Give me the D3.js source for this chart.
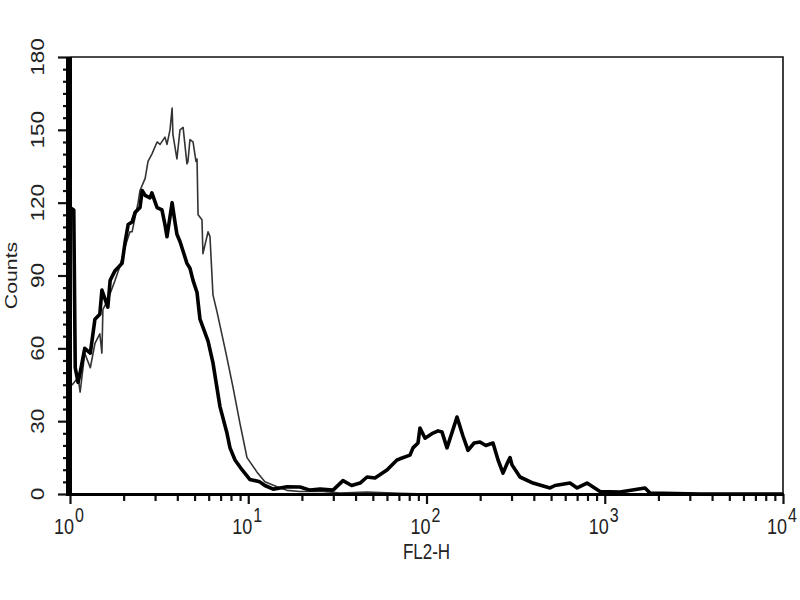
<!DOCTYPE html>
<html>
<head>
<meta charset="utf-8">
<script src="https://cdn.jsdelivr.net/npm/d3@7"></script>
<style>
  html, body { margin: 0; padding: 0; background: #fff; }
  text { font-family: "Liberation Sans", Arial, sans-serif; fill: #222; }
</style>
</head>
<body>
<div id="chart"></div>
<script>
// FL2-H histogram, counts per channel
const sampleSeries = [
  [1.0, 118], [1.05, 117], [1.07, 52], [1.11, 46], [1.14, 50], [1.21, 60], [1.30, 58],
  [1.38, 72], [1.47, 74], [1.51, 84], [1.63, 77], [1.68, 88], [1.79, 92], [1.96, 95],
  [2.04, 104], [2.12, 111], [2.23, 112], [2.32, 116], [2.47, 118], [2.54, 125], [2.64, 123],
  [2.81, 122], [2.88, 124], [3.08, 118], [3.28, 117], [3.41, 111], [3.50, 106], [3.74, 120],
  [3.88, 112], [3.98, 107], [4.14, 104], [4.31, 100], [4.53, 95], [4.71, 93], [4.90, 88],
  [5.16, 83], [5.36, 72], [5.95, 63], [6.34, 54], [6.94, 36], [7.60, 25], [7.90, 19],
  [8.43, 14], [9.22, 10], [10.2, 6], [11.6, 5], [12.4, 3.5], [13.8, 2], [15.1, 2.5],
  [16.5, 3], [19.5, 2.9], [22.2, 1.6], [25.3, 2], [29.9, 1.6], [34.0, 5.5], [38.0, 3.5],
  [42.4, 4.5], [46.4, 7], [51.4, 6.6], [60.0, 9.9], [68.3, 14], [71.0, 14.5], [80.8, 16],
  [84.0, 19], [89.6, 21], [91.9, 27.2], [98.1, 23], [108.8, 25.1], [116.0, 26], [122.2, 25.5],
  [130.3, 19], [140.0, 26], [148.3, 31.7], [160.0, 24], [171.0, 18], [185.0, 21], [199.6, 21.4],
  [215.0, 20], [236.1, 21], [252.0, 14], [268.7, 8.6], [285.0, 13], [294.1, 15], [301.8, 12],
  [334.6, 7], [395.8, 4.5], [493.1, 2.5], [526.0, 3.5], [638.3, 4.5], [700.0, 2.5], [795.1, 4.5],
  [940.5, 1], [1218, 0.8], [1682, 2.5], [1795, 0.4], [3422, 0], [10000, 0]
];

const controlSeries = [
  [1.0, 46], [1.03, 45], [1.11, 48], [1.14, 42], [1.21, 58], [1.30, 52], [1.38, 62],
  [1.47, 66], [1.51, 58], [1.53, 76], [1.63, 80], [1.79, 88], [1.91, 94], [2.04, 102],
  [2.17, 108], [2.23, 108], [2.41, 120], [2.47, 125], [2.64, 130], [2.74, 137], [2.88, 140],
  [3.08, 145], [3.20, 144], [3.41, 147], [3.50, 144], [3.64, 150], [3.74, 159], [3.78, 148],
  [3.98, 138], [4.14, 150], [4.31, 151], [4.53, 136], [4.59, 137], [4.71, 146], [4.90, 145],
  [5.09, 137], [5.16, 138], [5.23, 115], [5.50, 113], [5.57, 99], [5.95, 108], [6.10, 106],
  [6.34, 82], [6.68, 75], [7.40, 60], [7.60, 56], [8.21, 44], [8.99, 29], [9.84, 15],
  [11.2, 9], [12.4, 5], [14.5, 3], [16.5, 1.5], [19.5, 1], [25.3, 1.2], [32.7, 0.4],
  [46.4, 0.8], [71.0, 0.3], [100, 0], [10000, 0]
];

const yMajorTicks = [0, 30, 60, 90, 120, 150, 180];
const yMinorStep = 5;
const xDecades = [0, 1, 2, 3, 4];
const xLabel = 'FL2-H';
const yLabel = 'Counts';

const width = 800, height = 600;
const margin = { top: 57, right: 17, bottom: 106, left: 70 };
const textStretch = 'scale(1,1.25)';

const svg = d3.select('#chart')
  .append('svg')
  .attr('width', width)
  .attr('height', height);

const x = d3.scaleLog()
  .domain([1, 10000])
  .range([margin.left, width - margin.right]);

const y = d3.scaleLinear()
  .domain([0, 180])
  .range([height - margin.bottom, margin.top]);

svg.append('clipPath')
  .attr('id', 'plot-clip')
  .append('rect')
  .attr('x', margin.left)
  .attr('y', margin.top - 2)
  .attr('width', width - margin.left - margin.right)
  .attr('height', height - margin.top - margin.bottom + 2);

// frame (top + right are thin)
svg.append('path')
  .attr('d', `M${x(1)},${y(180)}H${x(10000)}V${y(0)}`)
  .attr('fill', 'none')
  .attr('stroke', '#111')
  .attr('stroke-width', 1.6);

const line = d3.line()
  .x(d => x(d[0]))
  .y(d => y(d[1]));

svg.append('path')
  .datum(controlSeries)
  .attr('clip-path', 'url(#plot-clip)')
  .attr('fill', 'none')
  .attr('stroke', '#333')
  .attr('stroke-width', 1.6)
  .attr('stroke-linejoin', 'round')
  .attr('d', line);

svg.append('path')
  .datum(sampleSeries)
  .attr('clip-path', 'url(#plot-clip)')
  .attr('fill', 'none')
  .attr('stroke', '#000')
  .attr('stroke-width', 3.6)
  .attr('stroke-linejoin', 'round')
  .attr('d', line);

// left axis
const yMinor = d3.range(0, 181, yMinorStep).filter(v => !yMajorTicks.includes(v));
const leftMinor = svg.append('g')
  .attr('transform', `translate(${margin.left},0)`)
  .call(d3.axisLeft(y).tickValues(yMinor).tickSize(7).tickFormat(''));
const leftMajor = svg.append('g')
  .attr('transform', `translate(${margin.left},0)`)
  .call(d3.axisLeft(y).tickValues(yMajorTicks).tickSize(12).tickFormat(''));
[leftMinor, leftMajor].forEach(g => {
  g.select('.domain').remove();
  g.selectAll('line').attr('stroke', '#111').attr('stroke-width', 2.2);
});
svg.append('line')
  .attr('x1', margin.left - 1).attr('x2', margin.left - 1)
  .attr('y1', y(180)).attr('y2', y(0) + 2)
  .attr('stroke', '#000')
  .attr('stroke-width', 6);

svg.append('g')
  .selectAll('text')
  .data(yMajorTicks)
  .join('text')
  .attr('transform', d => `translate(44,${y(d)}) ${textStretch} rotate(-90)`)
  .attr('text-anchor', 'middle')
  .attr('font-size', 18)
  .text(d => d);

// bottom axis
const xMinor = [];
xDecades.slice(0, -1).forEach(e => {
  for (let k = 2; k <= 9; k++) xMinor.push(k * Math.pow(10, e));
});
const bottomMinor = svg.append('g')
  .attr('transform', `translate(0,${y(0)})`)
  .call(d3.axisBottom(x).tickValues(xMinor).tickSize(7).tickFormat(''));
const bottomMajor = svg.append('g')
  .attr('transform', `translate(0,${y(0)})`)
  .call(d3.axisBottom(x).tickValues(xDecades.map(e => Math.pow(10, e))).tickSize(10).tickFormat(''));
[bottomMinor, bottomMajor].forEach(g => {
  g.select('.domain').remove();
  g.selectAll('line').attr('stroke', '#111').attr('stroke-width', 2.2);
});
svg.append('line')
  .attr('x1', x(1) - 3).attr('x2', x(10000) + 1)
  .attr('y1', y(0) + 0.5).attr('y2', y(0) + 0.5)
  .attr('stroke', '#000')
  .attr('stroke-width', 3.2);

const xLabels = svg.append('g')
  .selectAll('g')
  .data(xDecades)
  .join('g')
  .attr('transform', d => `translate(${x(Math.pow(10, d))},534) ${textStretch}`);
xLabels.append('text')
  .attr('x', -4)
  .attr('text-anchor', 'end')
  .attr('font-size', 18)
  .text('10')
  .attr('dx', 8);
xLabels.append('text')
  .attr('x', 5)
  .attr('y', -10)
  .attr('font-size', 16)
  .text(d => d);

svg.append('text')
  .attr('transform', `translate(${(x(1) + x(10000)) / 2},559) ${textStretch}`)
  .attr('text-anchor', 'middle')
  .attr('font-size', 17)
  .text(xLabel);

svg.append('text')
  .attr('transform', `translate(17,${(y(0) + y(180)) / 2}) ${textStretch} rotate(-90)`)
  .attr('text-anchor', 'middle')
  .attr('font-size', 17)
  .text(yLabel);
</script>
</body>
</html>
